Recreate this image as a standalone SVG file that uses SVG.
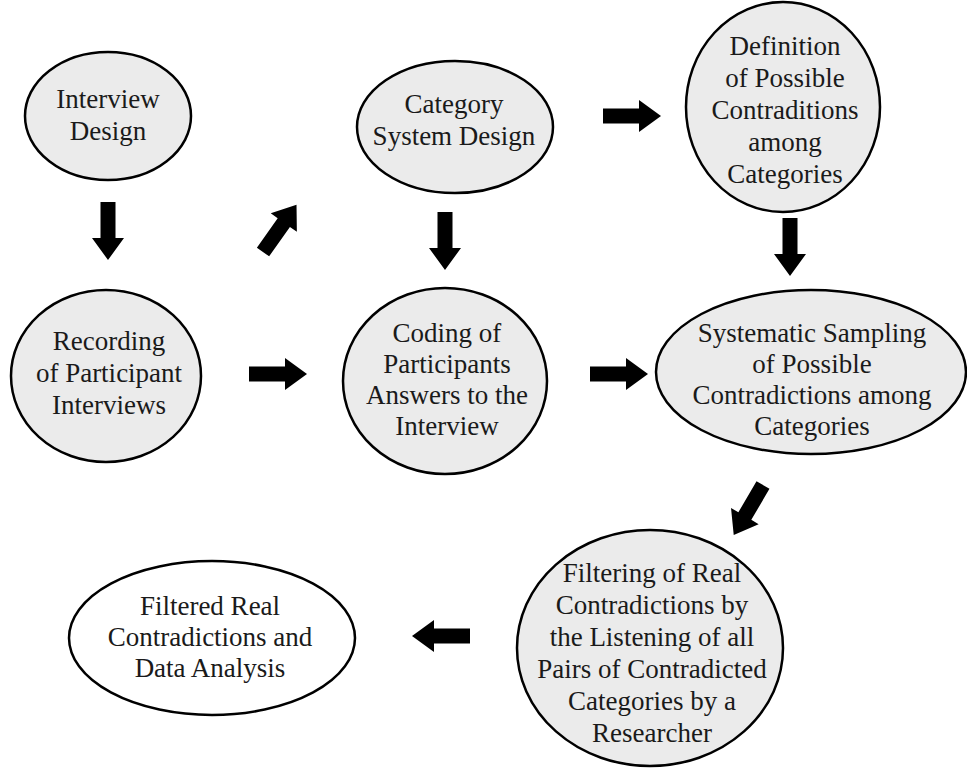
<svg xmlns="http://www.w3.org/2000/svg" width="967" height="768" viewBox="0 0 967 768">
<defs>
<style>
.n{fill:#ebebeb;stroke:#000;stroke-width:2.5}
.w{fill:#fff;stroke:#000;stroke-width:2.5}
text{font-family:"Liberation Serif","Times New Roman",serif;font-size:27px;fill:#1a1a1a;text-anchor:middle}
.a{fill:#000}
</style>
<path id="arr" class="a" d="M0,-7.5 L36,-7.5 L36,-16 L58,0 L36,16 L36,7.5 L0,7.5 Z"/>
</defs>
<rect width="967" height="768" fill="#fff"/>
<g id="connectors">
<use href="#arr" transform="translate(108,202) rotate(90)"/>
<use href="#arr" transform="translate(263,252) rotate(-54.7)"/>
<use href="#arr" transform="translate(445,212) rotate(90)"/>
<use href="#arr" transform="translate(603,116)"/>
<use href="#arr" transform="translate(790,218) rotate(90)"/>
<use href="#arr" transform="translate(249,374)"/>
<use href="#arr" transform="translate(590,374)"/>
<use href="#arr" transform="translate(763,485) rotate(120.3)"/>
<use href="#arr" transform="translate(470,636) rotate(180)"/>
</g>
<g id="interview-design">
<ellipse class="n" cx="108" cy="116" rx="83" ry="64"/>
<text x="108" y="108">Interview</text>
<text x="108" y="140">Design</text>
</g>
<g id="category-system-design">
<ellipse class="n" cx="455" cy="127" rx="98" ry="66"/>
<text x="454" y="113">Category</text>
<text x="454" y="145">System Design</text>
</g>
<g id="definition">
<ellipse class="n" cx="783" cy="107" rx="97" ry="105"/>
<text x="785" y="55">Definition</text>
<text x="785" y="87">of Possible</text>
<text x="785" y="119">Contraditions</text>
<text x="785" y="151">among</text>
<text x="785" y="183">Categories</text>
</g>
<g id="recording">
<ellipse class="n" cx="106" cy="376" rx="95" ry="86"/>
<text x="109" y="350">Recording</text>
<text x="109" y="382">of Participant</text>
<text x="109" y="414">Interviews</text>
</g>
<g id="coding">
<ellipse class="n" cx="445" cy="381" rx="102" ry="93"/>
<text x="447" y="342">Coding of</text>
<text x="447" y="373">Participants</text>
<text x="447" y="404">Answers to the</text>
<text x="447" y="435">Interview</text>
</g>
<g id="systematic-sampling">
<ellipse class="n" cx="811" cy="372" rx="155" ry="82"/>
<text x="812" y="342">Systematic Sampling</text>
<text x="812" y="373">of Possible</text>
<text x="812" y="404">Contradictions among</text>
<text x="812" y="435">Categories</text>
</g>
<g id="filtering">
<ellipse class="n" cx="650" cy="648" rx="133" ry="118"/>
<text x="652" y="582">Filtering of Real</text>
<text x="652" y="614">Contradictions by</text>
<text x="652" y="646">the Listening of all</text>
<text x="652" y="678">Pairs of Contradicted</text>
<text x="652" y="710">Categories by a</text>
<text x="652" y="742">Researcher</text>
</g>
<g id="filtered-real">
<ellipse class="w" cx="212" cy="638" rx="143" ry="77"/>
<text x="210" y="615">Filtered Real</text>
<text x="210" y="646">Contradictions and</text>
<text x="210" y="677">Data Analysis</text>
</g>
</svg>
